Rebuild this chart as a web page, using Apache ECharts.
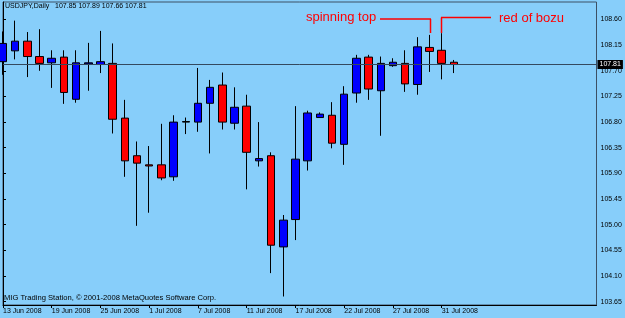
<!DOCTYPE html>
<html>
<head>
<meta charset="utf-8">
<title>USDJPY Daily</title>
<script src="https://cdn.jsdelivr.net/npm/echarts@6/dist/echarts.min.js"></script>
<style>
  html, body { margin: 0; padding: 0; background: #87cefa; }
  #chart { width: 625px; height: 318px; }
</style>
</head>
<body>
<div id="chart"></div>
<script>
// bar dates (MetaTrader daily bars, incl. two sunday bars)
var dates = ['13 Jun 2008','16 Jun 2008','17 Jun 2008','18 Jun 2008','19 Jun 2008','20 Jun 2008',
  '23 Jun 2008','24 Jun 2008','25 Jun 2008','26 Jun 2008','27 Jun 2008','30 Jun 2008',
  '1 Jul 2008','2 Jul 2008','3 Jul 2008','4 Jul 2008','7 Jul 2008','8 Jul 2008','9 Jul 2008',
  '10 Jul 2008','11 Jul 2008','14 Jul 2008','15 Jul 2008','16 Jul 2008','17 Jul 2008',
  '18 Jul 2008','20 Jul 2008','21 Jul 2008','22 Jul 2008','23 Jul 2008','24 Jul 2008',
  '25 Jul 2008','27 Jul 2008','28 Jul 2008','29 Jul 2008','30 Jul 2008','31 Jul 2008','1 Aug 2008'];

var opens  = [107.86,108.05,108.22,107.95,107.84,107.94,107.20,107.82,107.81,107.83,106.87,106.21,
  106.05,106.05,105.84,106.80,106.80,107.13,107.45,106.78,107.08,106.12,106.21,104.61,105.09,
  106.12,106.88,106.92,106.41,107.31,107.94,107.35,107.79,107.83,107.46,108.11,108.06,107.85];
var closes = [108.18,108.22,107.95,107.83,107.92,107.32,107.84,107.84,107.86,106.85,106.12,106.08,
  106.03,105.82,106.80,106.81,107.13,107.41,106.80,107.06,106.27,106.16,104.64,105.08,106.15,
  106.96,106.94,106.43,107.29,107.92,107.38,107.83,107.85,107.47,108.12,108.04,107.83,107.81];
var lows   = [107.63,107.90,107.59,107.70,107.40,107.12,107.14,107.35,107.66,106.60,105.84,104.98,
  105.21,105.78,105.77,106.59,106.63,106.25,106.67,106.67,105.62,106.02,104.15,103.74,104.73,
  105.95,106.88,106.34,106.05,107.14,107.19,106.56,107.77,107.33,107.28,107.68,107.55,107.66];
var highs  = [108.39,108.58,108.38,108.43,108.06,108.06,108.06,108.19,108.40,108.18,107.19,106.46,
  106.38,106.77,106.92,106.88,107.75,107.54,107.67,107.41,107.28,106.80,106.27,105.17,107.08,
  107.00,106.97,107.15,107.43,107.98,107.98,107.95,107.92,108.06,108.29,108.33,108.36,107.89];

var dateTicks = [0,4,8,12,16,20,24,28,32,36];
var priceTicks = [103.65,104.10,104.55,105.00,105.45,105.90,106.35,106.80,107.25,107.70,108.15,108.60];
var lastPrice = 107.81;

var candles = [];
for (var i = 0; i < dates.length; i++) {
    candles.push([i, opens[i], closes[i], lows[i], highs[i]]);
}

var font = 'Liberation Sans, Arial, sans-serif';
var red = '#ff0000';
var myChart = echarts.init(document.getElementById('chart'));
var option = {
    backgroundColor: '#87cefa',
    animation: false,
    grid: {
        left: 2, top: 2, right: 28.5, bottom: 13,
        show: true, borderColor: '#3c5064', borderWidth: 1
    },
    xAxis: {
        type: 'value',
        min: 0,
        max: 48.7,
        axisLine: { lineStyle: { color: '#000', width: 1 } },
        axisTick: { customValues: dateTicks, length: 3, lineStyle: { color: '#000' } },
        axisLabel: {
            customValues: dateTicks,
            formatter: function (v) { return dates[v] || ''; },
            align: 'left', margin: 3, color: '#000', fontSize: 7, fontFamily: font
        },
        splitLine: { show: false }
    },
    yAxis: {
        type: 'value',
        position: 'right',
        min: 103.591,
        max: 108.907,
        axisLine: { show: true, lineStyle: { color: '#000', width: 1 } },
        axisTick: { show: true, customValues: priceTicks, length: 3, lineStyle: { color: '#000' } },
        axisLabel: {
            customValues: priceTicks,
            formatter: function (v) { return v.toFixed(2); },
            margin: 4, color: '#000', fontSize: 7, fontFamily: font
        },
        splitLine: { show: false }
    },
    series: [{
        type: 'candlestick',
        data: candles,
        encode: { x: 0, y: [1, 2, 3, 4] },
        barWidth: 8,
        itemStyle: {
            color: '#0000ff',
            color0: '#ff0000',
            borderColor: '#000',
            borderColor0: '#000',
            borderWidth: 1
        },
        markLine: {
            silent: true,
            symbol: ['none', 'none'],
            data: [{ yAxis: lastPrice }],
            lineStyle: { color: '#34495e', type: 'solid', width: 1 },
            label: {
                position: 'end',
                distance: 1,
                formatter: lastPrice.toFixed(2),
                backgroundColor: '#000',
                color: '#fff',
                padding: [1, 2, 1, 2],
                fontSize: 7,
                fontFamily: font
            }
        }
    }],
    graphic: [
        { type: 'text', left: 5, top: 3,
          style: { text: 'USDJPY,Daily   107.85 107.89 107.66 107.81', fill: '#000', font: '7px ' + font } },
        { type: 'text', left: 4, top: 294,
          style: { text: 'MIG Trading Station, \u00a9 2001-2008 MetaQuotes Software Corp.', fill: '#000', font: '7.6px ' + font } },
        // annotations
        { type: 'text', left: 306, top: 11,
          style: { text: 'spinning top', fill: red, font: '13px ' + font } },
        { type: 'line', shape: { x1: 380, y1: 19, x2: 431, y2: 19 }, style: { stroke: red, lineWidth: 1.5 } },
        { type: 'line', shape: { x1: 430.5, y1: 19, x2: 430.5, y2: 33 }, style: { stroke: red, lineWidth: 1.5 } },
        { type: 'text', left: 499, top: 12,
          style: { text: 'red of bozu', fill: red, font: '13px ' + font } },
        { type: 'line', shape: { x1: 441.5, y1: 33, x2: 441.5, y2: 17.5 }, style: { stroke: red, lineWidth: 1.5 } },
        { type: 'line', shape: { x1: 441, y1: 17.5, x2: 491, y2: 17.5 }, style: { stroke: red, lineWidth: 1.5 } }
    ]
};
myChart.setOption(option);
</script>
</body>
</html>
